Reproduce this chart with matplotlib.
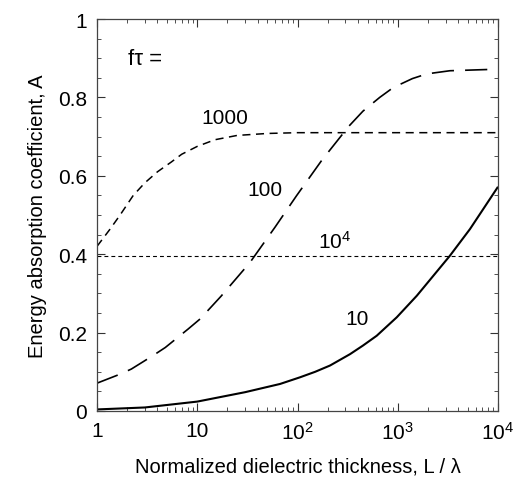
import matplotlib
matplotlib.use("Agg")
import matplotlib.pyplot as plt
from matplotlib.ticker import FixedLocator, LogLocator, NullFormatter, MultipleLocator

plt.rcParams['font.family'] = ['Liberation Sans', 'DejaVu Sans']
plt.rcParams['mathtext.fontset'] = 'custom'
plt.rcParams['mathtext.rm'] = 'Liberation Sans'
plt.rcParams['mathtext.it'] = 'Liberation Sans:italic'
plt.rcParams['lines.scale_dashes'] = False

# f*tau = 10 (solid)
x10 = [1, 3, 10, 30, 67, 106, 150, 211, 334, 450, 617, 977, 1549, 2265, 3311, 5250, 10000]
y10 = [0.004, 0.009, 0.024, 0.048, 0.069, 0.086, 0.100, 0.116, 0.145, 0.167, 0.192, 0.239, 0.294, 0.345, 0.396, 0.464, 0.572]

# f*tau = 100 (long dashes)
x100 = [1, 1.7, 2.2, 3.6, 4.8, 8.1, 10.7, 17.3, 33.6, 59.7, 97.7, 174, 324, 450, 661, 900, 1400, 1950, 3311, 10000]
y100 = [0.071, 0.094, 0.107, 0.141, 0.162, 0.209, 0.235, 0.293, 0.379, 0.469, 0.549, 0.639, 0.726, 0.765, 0.800, 0.825, 0.848, 0.860, 0.868, 0.872]

# f*tau = 1000 (medium dashes)
x1000 = [1, 1.35, 1.7, 2.3, 3, 4, 5.5, 7, 10, 15, 25, 50, 100, 10000]
y1000 = [0.42, 0.464, 0.50, 0.55, 0.582, 0.61, 0.635, 0.655, 0.675, 0.692, 0.703, 0.708, 0.71, 0.71]

# f*tau = 1e4 (short dashes)
x1e4 = [1, 10000]
y1e4 = [0.395, 0.395]

xticks = [1, 10, 100, 1000, 10000]
xticklabels = ['1', '10', '$10^2$', '$10^3$', '$10^4$']
yticks = [0, 0.2, 0.4, 0.6, 0.8, 1]
yticklabels = ['0', '0.2', '0.4', '0.6', '0.8', '1']

fig = plt.figure(figsize=(5.21, 4.81), dpi=100)
ax = fig.add_axes([97/521, 69/481, 401/521, 392/481])

ax.plot(x10, y10, color='black', lw=1.5, solid_capstyle='butt', solid_joinstyle='round')
ax.plot(x100, y100, color='black', lw=1.2, dashes=(16, 8))
ax.plot(x1000, y1000, color='black', lw=1.1, dashes=(5.8, 4))
ax.plot(x1e4, y1e4, color='black', lw=0.8, dashes=(2.8, 2.2))

ax.set_xscale('log')
ax.set_xlim(1, 10000)
ax.set_ylim(0, 1)
ax.xaxis.set_major_locator(FixedLocator(xticks))
ax.set_xticklabels(xticklabels)
ax.xaxis.set_minor_locator(LogLocator(base=10, subs=range(2, 10)))
ax.xaxis.set_minor_formatter(NullFormatter())
ax.set_yticks(yticks)
ax.set_yticklabels(yticklabels)
ax.yaxis.set_minor_locator(MultipleLocator(0.05))

ax.tick_params(which='both', direction='in', top=True, right=True, colors='#333333', labelcolor='black', labelsize=15)
ax.tick_params(which='major', length=6, width=0.8, pad=7)
ax.tick_params(which='minor', length=3, width=0.6)
for s in ax.spines.values():
    s.set_color('#444444')
    s.set_linewidth(0.9)

ax.set_xlabel('Normalized dielectric thickness, L / λ', fontsize=14.5, labelpad=10)
ax.set_ylabel('Energy absorption coefficient, A', fontsize=14.5, labelpad=8)

ax.text(2.04, 0.90, 'fτ =', fontsize=16, ha='left', va='center')
ax.text(18.9, 0.75, '1000', fontsize=15, ha='center', va='center')
ax.text(47.4, 0.566, '100', fontsize=15, ha='center', va='center')
ax.text(160, 0.416, '$10^4$', fontsize=15, ha='left', va='baseline')
ax.text(392, 0.235, '10', fontsize=15, ha='center', va='center')

fig.savefig('out.png', dpi=100)
